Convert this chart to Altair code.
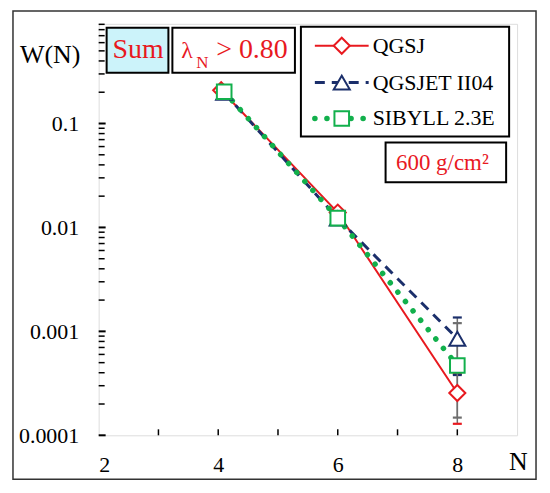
import altair as alt
import pandas as pd

# ---------------- data ----------------
series_names = ["QGSJ", "QGSJET II04", "SIBYLL 2.3E"]
n_qgsj = [4.05, 6, 8]
w_qgsj = [0.209, 0.0139, 0.000255]
n_qgsjet = [4.1, 6, 8]
w_qgsjet = [0.198, 0.0122, 0.00085]
n_sibyll = [4.1, 6, 8]
w_sibyll = [0.202, 0.0123, 0.00047]

err_n = [8, 8, 8]
err_low = [0.000129, 0.00038, 0.000148]
err_high = [0.00039, 0.00136, 0.0012]

x_label_values = [2, 4, 6, 8]
x_tick_values = [3, 4, 5, 6, 7, 8]
y_major = [0.0001, 0.001, 0.01, 0.1]
y_minor = [0.0002, 0.0003, 0.0004, 0.0005, 0.0006, 0.0007, 0.0008, 0.0009,
           0.002, 0.003, 0.004, 0.005, 0.006, 0.007, 0.008, 0.009,
           0.02, 0.03, 0.04, 0.05, 0.06, 0.07, 0.08, 0.09,
           0.2, 0.3, 0.4, 0.5, 0.6, 0.7, 0.8, 0.9]

RED = "#e8191f"
NAVY = "#1b2f6b"
GREEN = "#12b04c"
GREY = "#6e6e6e"
FONT = "Liberation Serif"

xs = alt.Scale(domain=[2, 9], nice=False, zero=False)
ys = alt.Scale(type="log", domain=[0.0001, 0.91], nice=False)

xaxis = alt.Axis(values=x_label_values, ticks=False, tickSize=0, domain=False, grid=False,
                 labelFont=FONT, labelFontSize=22, labelColor="black",
                 labelBaseline="alphabetic", labelPadding=36, title=None)
yaxis = alt.Axis(values=y_major, format=".4~f", ticks=False, tickSize=0, domain=False, grid=False,
                 labelFont=FONT, labelFontSize=22, labelColor="black",
                 labelPadding=20, title=None)

df_q = pd.DataFrame({"N": n_qgsj, "W": w_qgsj})
df_j = pd.DataFrame({"N": n_qgsjet, "W": w_qgsjet})
df_s = pd.DataFrame({"N": n_sibyll, "W": w_sibyll})
df_err = pd.DataFrame({"N": err_n, "lo": err_low, "hi": err_high, "s": series_names})

one = pd.DataFrame({"a": [0]})

# ---------------- decorations ----------------
outer = alt.Chart(one).mark_rect(fillOpacity=0, stroke="#333333", strokeWidth=1.5).encode(
    x=alt.value(-86), x2=alt.value(439), y=alt.value(-13), y2=alt.value(457))

def box(x1, x2, y1, y2, fill="white"):
    return alt.Chart(one).mark_rect(fill=fill, stroke="black", strokeWidth=2).encode(
        x=alt.value(x1), x2=alt.value(x2), y=alt.value(y1), y2=alt.value(y2))

def label(txt, x, y, size, color="black", align="left", baseline="alphabetic"):
    return alt.Chart(one).mark_text(text=txt, font=FONT, fontSize=size, color=color,
                                    align=align, baseline=baseline).encode(
        x=alt.value(x), y=alt.value(y))

sum_box = box(8, 70, 4, 49, fill="#ccf3fa")
lam_box = box(74, 197, 4, 49)
g_box = box(288, 409, 119, 159)
leg_box = box(203, 412, 3, 113)

texts = [
    label("Sum", 39.5, 34, 28, RED, align="center"),
    label("λ", 83, 34, 24, RED),
    label("N", 98, 44, 17, RED),
    label("> 0.80", 118, 34, 28, RED),
    label("600 g/cm²", 345, 147, 23, RED, align="center"),
    label("W(N)", -79, 39, 26),
    label("N", 412, 448, 26),
]

# legend
leg_rows = [22, 59, 95]
leg_styles = [
    dict(color=RED, dash=[1, 0], width=2, shape="diamond", size=260, cap="butt"),
    dict(color=NAVY, dash=[10, 7], width=3, shape="triangle-up", size=260, cap="butt"),
    dict(color=GREEN, dash=[0.1, 12], width=5.5, shape="square", size=215, cap="round"),
]
legend_layers = []
for name, ry, st in zip(series_names, leg_rows, leg_styles):
    legend_layers.append(alt.Chart(one).mark_rule(color=st["color"], strokeWidth=st["width"],
                                                  strokeDash=st["dash"], strokeCap=st["cap"]).encode(
        x=alt.value(217), x2=alt.value(271), y=alt.value(ry)))
    legend_layers.append(alt.Chart(one).mark_point(shape=st["shape"], size=st["size"], filled=True,
                                                   fill="white", stroke=st["color"], strokeWidth=2,
                                                   opacity=1).encode(
        x=alt.value(244), y=alt.value(ry)))
    legend_layers.append(label(name, 275, ry, 22, baseline="middle"))

# ---------------- axis ticks (inside) ----------------
yt_minor = alt.Chart(pd.DataFrame({"v": y_minor})).mark_rule(color="black", strokeWidth=1.5).encode(
    y=alt.Y("v:Q", scale=ys, axis=yaxis), x=alt.value(0), x2=alt.value(6))
yt_major = alt.Chart(pd.DataFrame({"v": y_major})).mark_rule(color="black", strokeWidth=2).encode(
    y=alt.Y("v:Q", scale=ys, axis=yaxis), x=alt.value(0), x2=alt.value(7))
xt = alt.Chart(pd.DataFrame({"v": x_tick_values})).mark_rule(color="black", strokeWidth=1.5).encode(
    x=alt.X("v:Q", scale=xs, axis=xaxis), y=alt.value(413), y2=alt.value(407))

# ---------------- data marks ----------------
def enc(chart):
    return chart.encode(x=alt.X("N:Q", scale=xs, axis=xaxis), y=alt.Y("W:Q", scale=ys, axis=yaxis))

line_q = enc(alt.Chart(df_q).mark_line(color=RED, strokeWidth=2))
line_j = enc(alt.Chart(df_j).mark_line(color=NAVY, strokeWidth=3, strokeDash=[10, 7]))
line_s = enc(alt.Chart(df_s).mark_line(color=GREEN, strokeWidth=5.5, strokeDash=[0.1, 12], strokeCap="round"))

err_colors = [RED, NAVY, GREY]
err_layers = []
for i, c in enumerate(err_colors):
    d = df_err.iloc[[i]]
    err_layers.append(alt.Chart(d).mark_rule(color=GREY, strokeWidth=1.5).encode(
        x=alt.X("N:Q", scale=xs, axis=xaxis), y=alt.Y("lo:Q", scale=ys, axis=yaxis), y2="hi:Q"))
    for f in ["lo", "hi"]:
        err_layers.append(alt.Chart(d).mark_point(shape="stroke", size=81, stroke=c, strokeWidth=2.2,
                                                   opacity=1).encode(
            x=alt.X("N:Q", scale=xs, axis=xaxis), y=alt.Y(f + ":Q", scale=ys, axis=yaxis)))

pt_q = enc(alt.Chart(df_q).mark_point(shape="diamond", size=260, filled=True, fill="white",
                                      stroke=RED, strokeWidth=2, opacity=1))
pt_j = enc(alt.Chart(df_j).mark_point(shape="triangle-up", size=260, filled=True, fill="white",
                                      stroke=NAVY, strokeWidth=2, opacity=1))
pt_s = enc(alt.Chart(df_s).mark_point(shape="square", size=215, filled=True, fill="white",
                                      stroke=GREEN, strokeWidth=2, opacity=1))

chart = alt.layer(
    outer, xt, yt_minor, yt_major,
    line_q, line_j, line_s,
    *err_layers,
    pt_q, pt_j, pt_s,
    sum_box, lam_box, g_box, leg_box,
    *texts, *legend_layers,
).properties(
    width=420, height=413,
    padding={"left": 91, "top": 15, "right": 25, "bottom": 50},
    autosize=alt.AutoSizeParams(type="none"),
).configure_view(stroke="black", strokeWidth=2.5).configure(background="white")

chart.save("out.html", embed_options={"renderer": "svg", "actions": False})
